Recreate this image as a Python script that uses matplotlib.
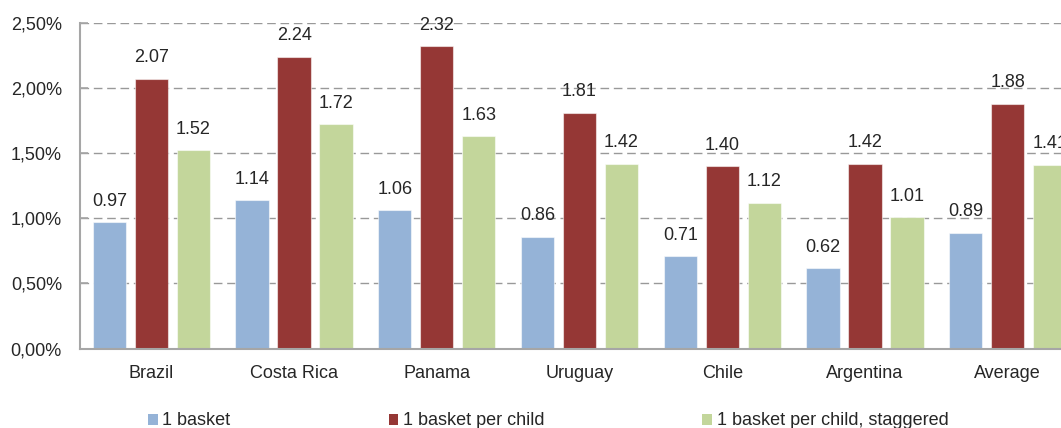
import matplotlib
matplotlib.use("Agg")
import matplotlib.pyplot as plt
from matplotlib.patches import Patch
from matplotlib.ticker import FixedLocator, FuncFormatter
import numpy as np

plt.rcParams["font.family"] = ["Liberation Sans", "DejaVu Sans"]

countries = ["Brazil", "Costa Rica", "Panama", "Uruguay", "Chile", "Argentina", "Average"]
one_basket = [0.97, 1.14, 1.06, 0.86, 0.71, 0.62, 0.89]
per_child = [2.07, 2.24, 2.32, 1.81, 1.40, 1.42, 1.88]
per_child_staggered = [1.52, 1.72, 1.63, 1.42, 1.12, 1.01, 1.41]
series_names = ["1 basket", "1 basket per child", "1 basket per child, staggered"]
y_ticks = [0.0, 0.5, 1.0, 1.5, 2.0, 2.5]

colors = ["#95B3D7", "#953735", "#C3D69B"]
text_color = "#262626"
fs = 13

fig = plt.figure(figsize=(10.61, 4.28), dpi=100)
ax = fig.add_axes([0.0754, 0.1853, 0.9416, 0.7617])

x = np.arange(len(countries))
width = 0.233
step = 0.294
series = [one_basket, per_child, per_child_staggered]
for i, (vals, col) in enumerate(zip(series, colors)):
    bars = ax.bar(x + (i - 1) * step, vals, width, color=col,
                  edgecolor=(1, 1, 1, 0.55), linewidth=0.8, zorder=3)
    for b, v in zip(bars, vals):
        ax.annotate(f"{v:.2f}", (b.get_x() + b.get_width() / 2, v),
                    xytext=(0, 15), textcoords="offset points",
                    ha="center", va="center", fontsize=fs, color=text_color,
                    zorder=4)

ax.set_xlim(-0.5, len(countries) - 0.5)
ax.set_ylim(0, 2.5)
ax.yaxis.set_major_locator(FixedLocator(y_ticks))
ax.yaxis.set_major_formatter(FuncFormatter(lambda v, p: f"{v:.2f}%".replace(".", ",")))
ax.set_xticks(x)
ax.set_xticklabels(countries)

for yv in y_ticks[1:]:
    ax.axhline(yv, color="#999999", linewidth=1.0, linestyle=(0, (6.2, 3.4)), zorder=1)

for side in ("top", "right"):
    ax.spines[side].set_visible(False)
for side in ("left", "bottom"):
    ax.spines[side].set_color("#a6a6a6")
    ax.spines[side].set_linewidth(1.5)
    ax.spines[side].set_zorder(5)

ax.tick_params(axis="y", direction="in", length=5.5, width=1.2, color="#a6a6a6",
               pad=13, labelsize=fs, labelcolor=text_color)
ax.tick_params(axis="x", length=0, pad=12, labelsize=fs, labelcolor=text_color)

handles = [Patch(facecolor=c, edgecolor="none") for c in colors]
fig.legend(handles, series_names, loc="center left", bbox_to_anchor=(0.1395, 0.0164),
           ncol=3, frameon=False, fontsize=fs, labelcolor=text_color,
           handlelength=0.55, handleheight=0.55, handletextpad=0.25,
           columnspacing=8.75, borderpad=0, borderaxespad=0)

fig.savefig("out.png", dpi=100)
